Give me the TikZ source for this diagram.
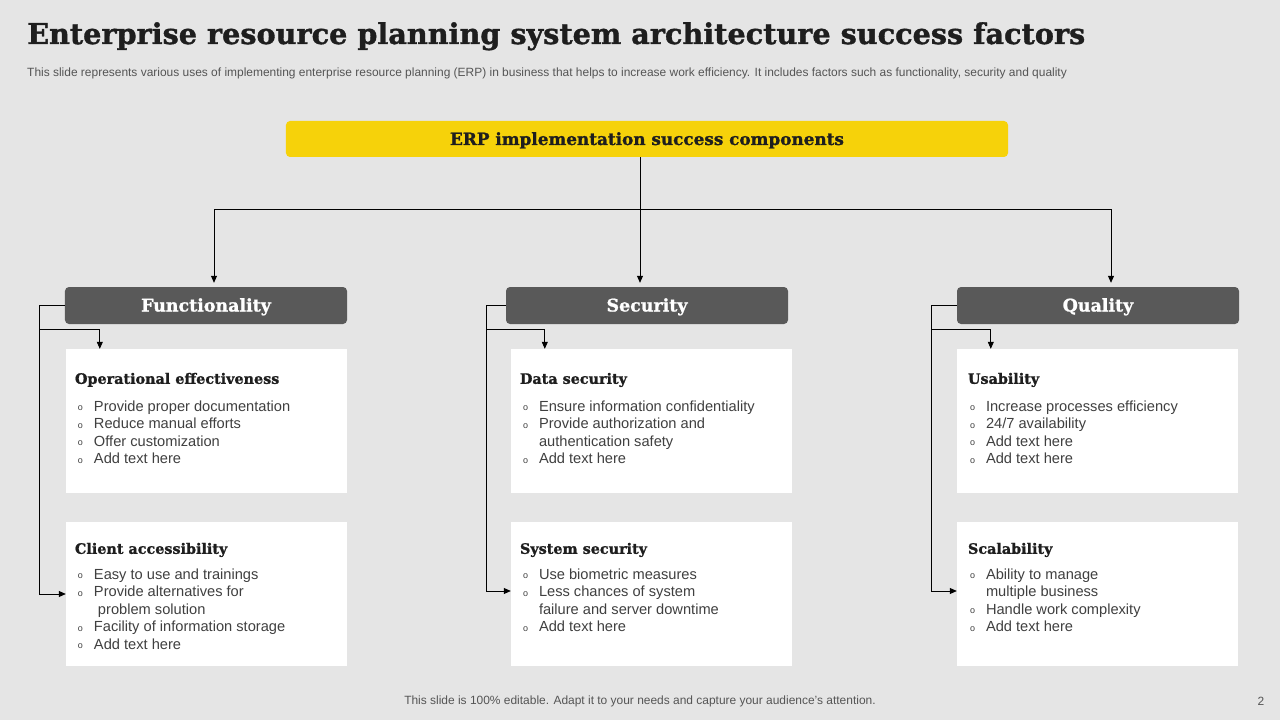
\documentclass[tikz,border=0pt]{standalone}
\usepackage{fontspec}
\setmainfont{Liberation Sans}
\newfontfamily\slabfont{DejaVu Serif}[BoldFeatures={FakeBold=1.2}]
\usetikzlibrary{arrows.meta, positioning, calc}
\definecolor{slidebg}{RGB}{229,229,229}
\definecolor{mydark}{RGB}{30,30,30}
\definecolor{myyellow}{RGB}{246,210,10}
\definecolor{hdrgray}{RGB}{89,89,89}
\definecolor{bodygray}{RGB}{64,64,64}
\definecolor{notegray}{RGB}{85,85,85}
\newcommand{\pt}{\rule{0pt}{11bp}\makebox[16bp][l]{\raisebox{0.3bp}{\fontsize{9}{9}\selectfont o}}}
\newcommand{\ct}{\rule{0pt}{11bp}\hspace*{16bp}}
\tikzset{
  hdrbox/.style={rectangle,fill=hdrgray,rounded corners=4bp,minimum width=282bp,minimum height=37bp,
    inner sep=0pt,text height=13bp,text depth=1bp,text=white,font=\slabfont\bfseries\fontsize{17.5}{17.5}\selectfont},
  card/.style={rectangle,fill=white,minimum width=281bp,minimum height=144bp,inner sep=0pt},
  cardhead/.style={anchor=base west,inner sep=0pt,text=mydark,font=\slabfont\bfseries\fontsize{14.4}{14.4}\selectfont},
  cardlist/.style={anchor=north west,inner sep=0pt,align=left,text=bodygray,font=\fontsize{14.7}{17.6}\selectfont},
  link/.style={line width=0.8bp,color=black},
  linkarrow/.style={link,-{Triangle[length=7bp,width=6bp]}}
}

\begin{document}
\begin{tikzpicture}[x=1bp,y=-1bp]
  % Slide background
  \fill[slidebg] (0,0) rectangle (1280,720);
  \useasboundingbox (0,0) rectangle (1280,720);

  % Title and subtitle
  \node[anchor=base west, inner sep=0pt, text=mydark, font=\slabfont\bfseries\fontsize{28.8}{28.8}\selectfont] (title) at (27,44)
    {Enterprise resource planning system architecture success factors};
  \node[anchor=base west, inner sep=0pt, text=notegray, font=\fontsize{12}{12}\selectfont] (subtitle) at (27,77)
    {This slide represents various uses of implementing enterprise resource planning (ERP) in business that helps to increase work efficiency. It includes factors such as functionality, security and quality};

  % Top component
  \node[rectangle, fill=myyellow, rounded corners=4bp, minimum width=722bp, minimum height=36bp, inner sep=0pt,
    text height=13bp, text depth=1bp, text=mydark, font=\slabfont\bfseries\fontsize{16.9}{16.9}\selectfont] (erp) at (647,139)
    {ERP implementation success components};

  % Factor headers
  \node[hdrbox] (func) at (206,305.5) {Functionality};
  \node[hdrbox] (secu) at (647,305.5) {Security};
  \node[hdrbox] (qual) at (1098,305.5) {Quality};

  % Cards
  \node[card] (opcard) at (206.5,421) {};
  \node[card] (cacard) at (206.5,594) {};
  \node[card] (dscard) at (651.5,421) {};
  \node[card] (sscard) at (651.5,594) {};
  \node[card] (uscard) at (1097.5,421) {};
  \node[card] (sccard) at (1097.5,594) {};

  % Card texts: Functionality
  \node[cardhead] (ophead) at ($(opcard.north west)+(9,35)$) {Operational effectiveness};
  \node[cardlist] (oplist) at ($(opcard.north west)+(12,51)$)
    {\pt Provide proper documentation\\ \pt Reduce manual efforts\\ \pt Offer customization\\ \pt Add text here};
  \node[cardhead] (cahead) at ($(cacard.north west)+(9,32)$) {Client accessibility};
  \node[cardlist] (calist) at ($(cacard.north west)+(12,46)$)
    {\pt Easy to use and trainings\\ \pt Provide alternatives for\\ \ct\hspace*{4bp}problem solution\\ \pt Facility of information storage\\ \pt Add text here};

  % Card texts: Security
  \node[cardhead] (dshead) at ($(dscard.north west)+(9,35)$) {Data security};
  \node[cardlist] (dslist) at ($(dscard.north west)+(12,51)$)
    {\pt Ensure information confidentiality\\ \pt Provide authorization and\\ \ct authentication safety\\ \pt Add text here};
  \node[cardhead] (sshead) at ($(sscard.north west)+(9,32)$) {System security};
  \node[cardlist] (sslist) at ($(sscard.north west)+(12,46)$)
    {\pt Use biometric measures\\ \pt Less chances of system\\ \ct failure and server downtime\\ \pt Add text here};

  % Card texts: Quality
  \node[cardhead] (ushead) at ($(uscard.north west)+(11,35)$) {Usability};
  \node[cardlist] (uslist) at ($(uscard.north west)+(13,51)$)
    {\pt Increase processes efficiency\\ \pt 24/7 availability\\ \pt Add text here\\ \pt Add text here};
  \node[cardhead] (schead) at ($(sccard.north west)+(11,32)$) {Scalability};
  \node[cardlist] (sclist) at ($(sccard.north west)+(13,46)$)
    {\pt Ability to manage\\ \ct multiple business\\ \pt Handle work complexity\\ \pt Add text here};

  % Tree from the top component
  \coordinate (hub) at (640,209);
  \coordinate (fdrop) at (214,209);
  \coordinate (qdrop) at (1111,209);
  \draw[link] (erp.south -| hub) -- (hub);
  \draw[linkarrow, shorten >=4bp] (hub) -- (fdrop) -- (fdrop |- func.north);
  \draw[linkarrow, shorten >=4bp] (hub) -- (hub |- secu.north);
  \draw[linkarrow, shorten >=4bp] (hub) -- (qdrop) -- (qdrop |- qual.north);

  % Side links into the cards
  \coordinate (fbus) at ($(func.west)+(-25,0)$);
  \coordinate (sbus) at ($(secu.west)+(-19,0)$);
  \coordinate (qbus) at ($(qual.west)+(-25,0)$);
  \draw[linkarrow] (func.west) -- (fbus) |- (cacard.west);
  \draw[linkarrow] (fbus |- 0,329) -| ($(opcard.north west)+(34,0)$);
  \draw[linkarrow] (secu.west) -- (sbus) |- ($(sscard.west)+(0,-3)$);
  \draw[linkarrow] (sbus |- 0,329) -| ($(dscard.north west)+(34,0)$);
  \draw[linkarrow] (qual.west) -- (qbus) |- ($(sccard.west)+(0,-3)$);
  \draw[linkarrow] (qbus |- 0,329) -| ($(uscard.north west)+(34,0)$);

  % Footer
  \node[inner sep=0pt, text=notegray, font=\fontsize{12}{12}\selectfont] (footer) at (640,701)
    {This slide is 100\% editable. Adapt it to your needs and capture your audience's attention.};
  \node[inner sep=0pt, text=notegray, font=\fontsize{12}{12}\selectfont] (pagenum) at (1261,701) {2};
\end{tikzpicture}
\end{document}
